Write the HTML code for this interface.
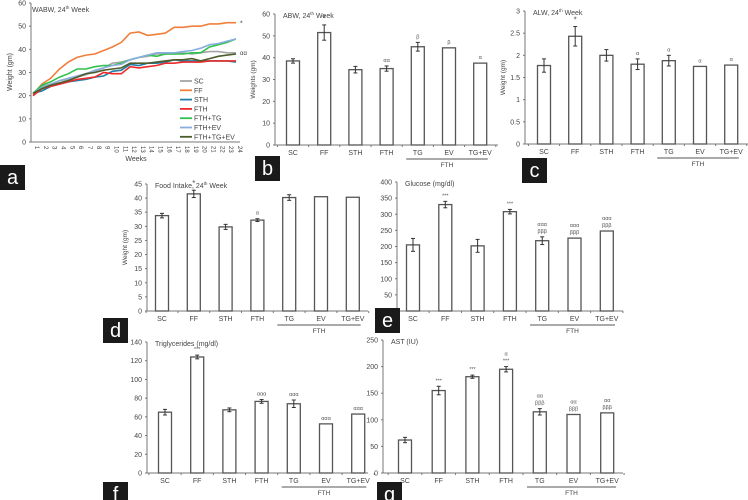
<!DOCTYPE html>
<html><head><meta charset="utf-8"><style>
html,body{margin:0;padding:0;background:#fff;}
svg{display:block;font-family:"Liberation Sans",sans-serif;}
</style></head><body>
<svg id="fig" width="748" height="500" viewBox="0 0 748 500" xmlns="http://www.w3.org/2000/svg"></svg>
<script>
// ---- Panel a data ----
const weeks = [1,2,3,4,5,6,7,8,9,10,11,12,13,14,15,16,17,18,19,20,21,22,23,24];
const seriesNames = ["SC","FF","STH","FTH","FTH+TG","FTH+EV","FTH+TG+EV"];
const seriesColors = ["#a6a6a6","#f07f3c","#1f7fa8","#ee2b2b","#2ec24c","#8aaee0","#4d5c2c"];
const sSC = [21,24,25,26.5,27,28,29,30.5,32,34,34.5,35.5,36.5,37,38,38,38,38.5,38,38.5,39,39,38.5,38.5];
const sFF = [20.5,25,27.5,31.5,34.5,36.5,37.5,38,39.5,41,43,47,47.5,46,46.5,47,49.5,49.5,50,50,51,51,51.5,51.5];
const sSTH = [21,22,24,25,26,26.5,27,28,28.5,30.5,31,33.5,33,34,34,34.5,35.5,35,35,35,35,35,35,34.5];
const sFTH = [20,23,24,25,26,27,27.5,28,30,29.5,29.5,32.5,32,32.5,33,34,34,34.5,34.5,34.5,35,35,35,35];
const sFTHTG = [21,24.5,26,28,29.5,31.5,31.5,32.5,33,33,34,35.5,36.5,37.5,37,38,38,38,38.5,38.5,41,42,43,44.5];
const sFTHEV = [21,23.5,25,26.5,27.5,28.5,29.5,31,32,33,33.5,35.5,36.5,37.5,38.5,38.5,38.5,39,39.5,40.5,42,42.5,43.5,44.5];
const sFTHTGEV = [21,23,24.5,25.5,26.5,28,29.5,30,31,31.5,32,34,34,34,34.5,35,35.5,35.5,36,35,36,37,37.5,38];
const aTicks = [0,10,20,30,40,50,60];

// ---- Bar panels data ----
const groups = ["SC","FF","STH","FTH","TG","EV","TG+EV"];
const abwVals = [38.5,51.5,34.5,35,45,44.5,37.5];
const abwErr = [1,3.5,1.5,1.2,2,0,0];
const abwSig = ["","*","","αα","β","β","α"];
const alwVals = [1.77,2.43,2.0,1.8,1.88,1.75,1.78];
const alwErr = [0.15,0.22,0.13,0.12,0.12,0,0];
const alwSig = ["","*","","α","α","α","α"];
const foodVals = [33.8,41.5,29.8,32.2,40.2,40.5,40.3];
const foodErr = [0.8,1.3,0.9,0.5,1,0,0];
const foodSig = ["","*","","α","","",""];
const gluVals = [205,330,202,308,218,226,248];
const gluErr = [20,10,20,7,12,0,0];
const gluSig = ["","***","","***","ααα|βββ","ααα|βββ","ααα|βββ"];
const tgVals = [65,124,67.5,76.5,74,52.5,63];
const tgErr = [3,2,2,2,4,0,0];
const tgSig = ["","***","","ααα","ααα","ααα","ααα"];
const astVals = [62,155,181,195,115,110,113];
const astErr = [5,8,3,5,6,0,0];
const astSig = ["","***","***","α|***","αα|βββ","αα|βββ","αα|βββ"];

const NS="http://www.w3.org/2000/svg";
const svg=document.getElementById('fig');
function mk(tag,attrs,parent){const e=document.createElementNS(NS,tag);for(const k in attrs)e.setAttribute(k,attrs[k]);(parent||svg).appendChild(e);return e;}
function txt(s,attrs,parent){const e=mk('text',attrs,parent);e.textContent=s;return e;}

// ---- Panel a ----
(function(){
  const g=mk('g',{});
  
  
  const xL=31,yB=142,yT=3,x1=33,x24=236;
  const ys=v=>yB-(v/60)*(yB-yT);
  const xs=w=>x1+(w-1)*(x24-x1)/23;
  const ax=mk('line',{x1:xL,y1:yT,x2:xL,y2:yB,stroke:'#777','stroke-width':1},g);
  
  const xa=mk('line',{x1:xL,y1:yB,x2:240,y2:yB,stroke:'#777','stroke-width':1},g);
  
  aTicks.forEach(t=>{mk('line',{x1:xL-2,y1:ys(t),x2:xL,y2:ys(t),stroke:'#777'},g);
    const l=txt(String(t),{x:xL-5,y:ys(t)+2.5,'font-size':7,'text-anchor':'end',fill:'#444'},g);
    });
  weeks.forEach(w=>{const l=txt(String(w),{x:0,y:0,'font-size':6,fill:'#444',transform:`translate(${xs(w)+2},${yB+4}) rotate(90)`},g);
    });
  const xt=txt('Weeks',{x:136,y:161,'font-size':7,'text-anchor':'middle',fill:'#444'},g);
  
  const yt=txt('Weight (gm)',{x:0,y:0,'font-size':7,'text-anchor':'middle',fill:'#444',transform:`translate(12,72) rotate(-90)`},g);
  
  const tt=txt('WABW, 24',{x:32,y:12,'font-size':7,fill:'#444'},g);
  const sp=mk('tspan',{'font-size':4.5,dy:-3},tt);sp.textContent='th';
  const sp2=mk('tspan',{dy:3},tt);sp2.textContent=' Week';
  
  const all=[sSC,sFF,sSTH,sFTH,sFTHTG,sFTHEV,sFTHTGEV];
  all.forEach((s,i)=>{
    const pts=s.map((v,j)=>xs(weeks[j]).toFixed(1)+','+ys(v).toFixed(1)).join(' ');
    const pl=mk('polyline',{points:pts,fill:'none',stroke:seriesColors[i],'stroke-width':1.6},g);
    
    
  });
  txt('*',{x:240,y:ys(51.5)+3,'font-size':7,fill:'#444'},g);
  txt('αα',{x:240,y:ys(38.5)+2,'font-size':6,fill:'#444'},g);
  seriesNames.forEach((n,i)=>{const y=81+i*9.3;
    const le=mk('g',{},g);
    
    mk('line',{x1:180,y1:y,x2:192,y2:y,stroke:seriesColors[i],'stroke-width':1.8},le);
    txt(n,{x:194,y:y+2.5,'font-size':7,fill:'#444'},le);});
})();

function barPanel(o){
  const g=mk('g',{});
  
  
  const ys=v=>o.y0-(v/o.max)*(o.y0-o.yT);
  const ax=mk('line',{x1:o.xL,y1:o.yT,x2:o.xL,y2:o.y0,stroke:'#777'},g);
  
  const xa=mk('line',{x1:o.xL,y1:o.y0,x2:o.xR,y2:o.y0,stroke:'#777'},g);
  
  for(let t=0;t<=o.max+1e-9;t+=o.step){
    mk('line',{x1:o.xL-2,y1:ys(t),x2:o.xL,y2:ys(t),stroke:'#777'},g);
    const l=txt(String(Math.round(t*10)/10),{x:o.xL-5,y:ys(t)+2.5,'font-size':7,'text-anchor':'end',fill:'#444'},g);
    
  }
  for(let i=0;i<=groups.length;i++){const x=o.x0+(i-0.5)*o.sp;mk('line',{x1:x,y1:o.y0,x2:x,y2:o.y0+2,stroke:'#777'},g);}
  groups.forEach((c,i)=>{
    const cx=o.x0+i*o.sp,v=o.vals[i],e=o.err[i];
    const b=mk('rect',{x:cx-6.5,y:ys(v),width:13,height:o.y0-ys(v),fill:'#fff',stroke:'#555','stroke-width':1.3},g);
    
    
    let top=ys(v);
    if(e>0){const a=ys(v+e),bb=ys(v-e);top=a;
      mk('line',{x1:cx,y1:a,x2:cx,y2:bb,stroke:'#333'},g);
      mk('line',{x1:cx-2,y1:a,x2:cx+2,y2:a,stroke:'#333'},g);
      mk('line',{x1:cx-2,y1:bb,x2:cx+2,y2:bb,stroke:'#333'},g);}
    if(o.sig[i]){const parts=o.sig[i].split('|');
      parts.forEach((p,k)=>{const s=txt(p,{x:cx,y:top-4-(parts.length-1-k)*7,'font-size':p==='*'?8:5.5,'text-anchor':'middle',fill:'#555'},g);
        });}
    const l=txt(c,{x:cx,y:o.y0+10,'font-size':7,'text-anchor':'middle',fill:'#444'},g);
    
  });
  const ux1=o.x0+3.5*o.sp+4,ux2=o.x0+6.5*o.sp-8;
  const ul=mk('line',{x1:ux1,y1:o.y0+14,x2:ux2,y2:o.y0+14,stroke:'#555'},g);
  
  const ft=txt('FTH',{x:(ux1+ux2)/2,y:o.y0+22,'font-size':6.5,'text-anchor':'middle',fill:'#444'},g);
  
  const tt=txt(o.title,{x:o.xL+8,y:o.yT+4,'font-size':7,fill:'#444'},g);
  if(o.sup){const sp=mk('tspan',{'font-size':4.5,dy:-3},tt);sp.textContent='th';const sp2=mk('tspan',{dy:3},tt);sp2.textContent=' Week';}
  
  if(o.ylab){const yt=txt(o.ylab,{x:0,y:0,'font-size':6.5,'text-anchor':'middle',fill:'#444',transform:`translate(${o.xL-20},${(o.yT+o.y0)/2}) rotate(-90)`},g);
    }
}
barPanel({name:'panel-b-abw',xL:275,y0:145,yT:14,max:60,step:10,x0:293,sp:31.2,xR:498,vals:abwVals,err:abwErr,sig:abwSig,title:'ABW, 24',sup:true,ylab:'Weights  (gm)'});
barPanel({name:'panel-c-alw',xL:525,y0:144,yT:11,max:3,step:0.5,x0:544,sp:31.2,xR:748,vals:alwVals,err:alwErr,sig:alwSig,title:'ALW, 24',sup:true,ylab:'Weight (gm)'});
barPanel({name:'panel-d-food-intake',xL:147,y0:311,yT:184,max:45,step:5,x0:162,sp:31.8,xR:368,vals:foodVals,err:foodErr,sig:foodSig,title:'Food Intake, 24',sup:true,ylab:'Weight (gm)'});
barPanel({name:'panel-e-glucose',xL:397,y0:311,yT:182,max:400,step:50,x0:413,sp:32.3,xR:623,vals:gluVals,err:gluErr,sig:gluSig,title:'Glucose  (mg/dl)'});
barPanel({name:'panel-f-triglycerides',xL:147,y0:473,yT:342,max:140,step:20,x0:165,sp:32.2,xR:368,vals:tgVals,err:tgErr,sig:tgSig,title:'Triglycerides  (mg/dl)'});
barPanel({name:'panel-g-ast',xL:383,y0:473,yT:340,max:250,step:50,x0:405,sp:33.7,xR:623,vals:astVals,err:astErr,sig:astSig,title:'AST (IU)'});

// panel letter boxes
[['a',0,165],['b',255,156],['c',522,158],['d',103,318],['e',375,308],['f',103,482],['g',377,482]].forEach(([l,x,y])=>{
  const g=mk('g',{});
  
  
  mk('rect',{x:x,y:y,width:25,height:25,fill:'#1a1a1a'},g);
  txt(l,{x:x+12.5,y:y+19,'font-size':20,'text-anchor':'middle',fill:'#fff'},g);
});
</script>
</body></html>
